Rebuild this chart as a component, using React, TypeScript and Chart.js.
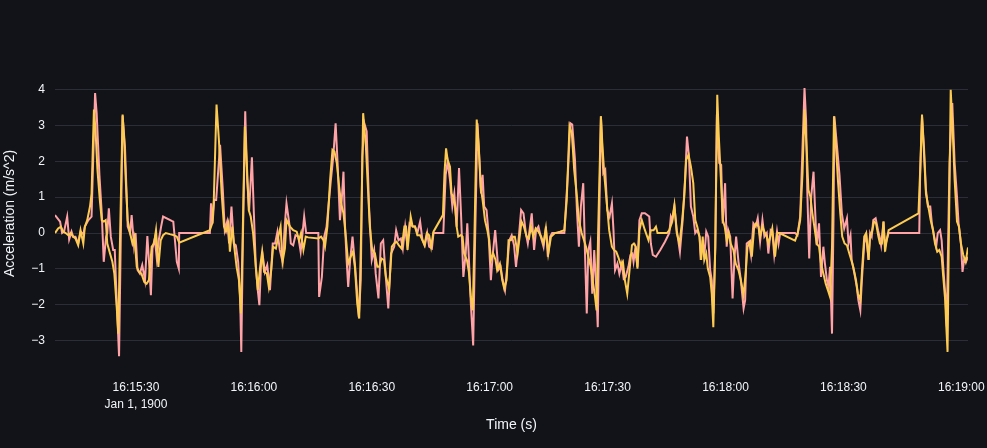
import { useEffect, useRef } from "react"
import { Chart, registerables } from "chart.js"

Chart.register(...registerables)

// time in seconds after 16:15:00 (Jan 1, 1900)
const pinkTime = [
  9.4, 10.7, 11.2, 11.7, 12.5, 13.0, 13.6, 14.0, 14.6, 15.3, 15.9, 16.6, 17.0, 17.9, 18.7, 19.6, 20.0, 20.7, 21.3, 21.8,
  22.4, 22.7, 23.1, 23.6, 24.2, 24.6, 25.2, 25.7, 26.6, 27.2, 27.9, 28.5, 28.9, 29.5, 29.9, 30.4, 31.0, 31.6, 32.3, 32.9,
  33.4, 33.8, 34.2, 34.8, 35.3, 35.8, 36.4, 36.9, 39.1, 39.5, 40.4, 40.9, 41.0, 48.8, 49.1, 49.5, 49.9, 50.4, 51.4, 52.1,
  52.6, 53.2, 53.7, 54.3, 54.9, 55.4, 56.0, 56.5, 56.8, 57.2, 57.8, 58.3, 58.8, 59.5, 60.0, 60.5, 61.0, 61.4, 61.8, 62.2,
  62.8, 63.4, 64.1, 64.8, 65.4, 66.0, 66.6, 67.3, 67.9, 68.3, 69.0, 69.4, 70.0, 70.6, 71.3, 71.9, 72.3, 72.8, 73.3, 76.4,
  76.6, 77.3, 77.9, 78.5, 79.6, 80.2, 80.8, 81.3, 81.9, 82.3, 82.8, 83.2, 83.6, 84.0, 84.5, 85.1, 85.7, 86.3, 86.7, 87.2,
  87.6, 88.1, 88.7, 89.3, 90.0, 90.6, 91.0, 91.7, 92.3, 92.9, 93.5, 94.2, 94.9, 95.7, 96.2, 96.8, 97.4, 97.9, 98.5, 99.0,
  99.6, 100.4, 101.0, 101.6, 102.3, 102.9, 103.5, 104.1, 104.6, 105.3, 105.7, 108.2, 108.8, 109.3, 109.9, 110.5, 111.0, 111.6, 112.2, 112.7,
  113.3, 113.9, 114.3, 114.8, 115.2, 115.8, 116.3, 116.9, 117.4, 117.8, 118.2, 118.6, 119.2, 119.7, 120.3, 120.8, 121.4, 121.8, 122.2, 122.8,
  123.3, 123.9, 124.3, 125.0, 125.6, 126.2, 126.7, 127.5, 128.0, 128.6, 129.2, 129.7, 130.1, 130.7, 131.3, 131.8, 132.4, 133.0, 133.7, 134.3,
  134.8, 135.4, 135.9, 139.0, 139.9, 140.5, 141.0, 141.7, 142.2, 142.7, 143.2, 143.8, 144.3, 144.7, 145.1, 145.6, 146.1, 146.6, 147.1, 147.5,
  147.9, 148.3, 148.9, 149.4, 149.9, 150.5, 151.1, 151.5, 151.9, 152.5, 153.0, 153.6, 154.1, 154.6, 155.3, 155.8, 156.3, 156.6, 157.0, 157.6,
  158.1, 158.7, 159.5, 160.6, 161.0, 161.5, 162.3, 163.4, 164.6, 165.7, 166.1, 166.5, 167.0, 167.6, 168.4, 169.1, 169.7, 170.2, 170.7, 171.2,
  171.8, 172.3, 172.8, 173.4, 173.7, 174.2, 174.6, 175.1, 175.6, 176.1, 176.5, 176.9, 177.4, 177.8, 178.4, 178.9, 179.3, 179.9, 180.3, 180.7,
  181.2, 181.8, 182.3, 182.7, 183.3, 183.9, 184.6, 185.0, 185.4, 186.0, 186.5, 187.1, 187.7, 188.2, 188.8, 189.4, 189.9, 190.5, 190.9, 191.5,
  191.9, 192.4, 193.1, 193.5, 193.9, 197.7, 198.3, 199.0, 199.6, 200.1, 200.5, 200.8, 201.3, 201.8, 202.4, 202.8, 203.2, 203.8, 204.3, 204.9,
  205.3, 205.8, 206.2, 206.6, 207.1, 207.5, 207.7, 208.3, 209.0, 209.6, 210.2, 210.9, 211.3, 211.8, 212.1, 212.8, 213.4, 213.8, 214.3, 214.7,
  215.3, 215.8, 216.4, 216.8, 217.2, 217.6, 218.2, 218.8, 219.2, 219.6, 220.2, 220.6, 221.0, 221.5, 229.3, 229.5, 230.0, 230.5, 231.0, 231.5,
  232.1, 232.5, 233.1, 233.6, 234.0, 234.6, 235.0, 235.4, 235.9, 236.3, 236.6, 237.0, 237.7, 238.3, 238.9, 239.3, 239.9, 240.3, 240.7, 241.2,
  241.7,
]
const pinkAccel = [
  0.5, 0.32, 0, 0.04, 0.46, -0.18, 0.04, -0.1, -0.1, -0.29, 0.04, -0.03, 0.18, 0.36, 0.46, 3.9, 3.34, 1.62, 0.55, -0.8,
  -0.1, 0, 0.69, -0.1, -0.47, -0.47, -2.15, -3.43, 3.27, 2.41, 0.18, 0, 0.5, -0.34, 0, -1.03, -1.13, -0.89, -1.31, -0.08,
  -0.94, -1.73, -0.43, -0.15, -0.71, -0.2, 0.18, 0.46, 0.34, 0.32, -0.8, -0.99, 0, 0, 0.83, 0.27, 0.92, 0.92, 2.46, 1.2,
  0.08, 0.32, -0.29, 0.74, -0.29, -0.34, -0.8, -1.78, -3.31, -0.2, 3.39, 1.48, 0.64, 2.11, 0.55, -0.94, -1.59, -2.01, -0.94, -0.57,
  -1.08, -0.89, -1.59, -0.29, -0.29, 0.04, -0.47, -0.8, 0.27, 0.83, 0.27, -0.29, -0.34, -0.06, -0.1, -0.52, -0.1, 0.46, 0, 0,
  -1.78, -1.22, -0.1, 0.18, 1.48, 2.13, 3.06, 1.95, 0.36, 0.83, 1.71, 0.18, -0.75, -1.5, -0.75, -0.1, -0.85, -1.69, -2.34, -1.31,
  2.13, 3.06, 2.83, 0.74, -0.75, -0.47, -1.13, -1.82, -0.29, -0.2, -1.13, -2.1, -0.57, -0.38, 0.08, -0.2, -0.15, -0.43, 0.18, -0.29,
  0.27, 0.18, 0.18, 0, 0.32, -0.2, -0.34, 0, -0.38, -0.43, 0, 0, 1.62, 1.99, 1.48, 0.74, 1.1, 0.18, 1.81, 0.55,
  -1.22, -0.57, 0.27, -0.94, -1.96, -3.13, -0.1, 3.06, 2.04, 1.1, 1.62, 0.74, 0.64, 0, -1.31, -0.57, 0.08, -0.47, -1.03, -0.94,
  -1.31, -1.59, -1.13, -0.2, -0.06, -0.34, -0.94, 0, 0.64, 0.55, 0, -0.29, 0.04, 0.55, -0.47, 0.08, 0.18, -0.1, -0.38, 0.18,
  -0.66, -0.1, 0, 0, 1.67, 3.06, 3.02, 2.04, 0.64, -0.38, 0.74, 1.39, -0.75, -2.24, -0.47, -0.24, -1.69, -0.47, -1.5, -2.62,
  0.55, 3.25, 1.67, 1.76, 0.64, 0.46, 0.83, 0.08, -1.03, -0.85, -1.13, -0.85, -1.27, -1.22, -0.94, -0.61, -0.57, -0.8, -0.47, -0.94,
  0.36, 0.55, 0.55, 0.46, -0.29, -0.61, -0.66, -0.47, -0.24, 0, 0.46, 0.36, 0.74, 0.08, -0.52, 0.36, 1.48, 2.69, 2.13, 0.74,
  0.46, 0, 0.08, -0.1, -0.75, -0.2, -0.66, 0.04, -0.1, -1.03, -1.31, -2.24, -0.38, 3.3, 1.95, 1.9, 0.27, 1.39, -0.38, 0.08,
  -0.1, -1.82, -0.66, -0.1, -0.8, -1.31, -2.1, -1.87, -0.29, -0.24, -0.61, 0.27, 0.18, 0.41, -0.24, 0.36, -0.1, 0, -0.57, 0.08,
  0.04, -0.61, 0.04, -0.29, 0, 0, -0.06, 0.46, 2.41, 4.04, 3.16, 1.2, -0.71, 1.01, 1.71, 0.64, -0.34, 0.27, -1.22, -0.38,
  -0.85, -1.31, -1.5, -0.94, -2.8, 0.55, 3.25, 2.5, 1.62, 0.55, 0.13, 0.41, -0.29, -0.06, -0.75, -1.13, -1.5, -1.87, -2.15, -1.31,
  -0.29, -0.06, -0.75, 0, -0.1, 0.36, 0.41, 0.08, -0.1, -0.34, 0.32, -0.38, -0.2, 0, 0, 1.48, 3.25, 2.41, 1.2, 0.74,
  0.74, 0.27, -0.1, -0.38, 0, 0.08, -0.2, -0.94, -1.69, -2.6, -0.5, 1.95, 3.62, 1.95, 1.01, 0.27, -0.29, -1.08, -0.75, -0.8,
  -0.66,
]

const yellowTime = [
  9.4, 10.2, 10.9, 11.5, 12.1, 12.8, 13.4, 14.0, 14.6, 15.3, 15.9, 16.6, 17.0, 17.6, 18.3, 18.7, 19.3, 19.7, 20.2, 20.8,
  21.3, 21.8, 22.3, 22.7, 23.4, 24.0, 24.5, 25.1, 25.5, 25.9, 26.6, 27.0, 27.4, 27.9, 28.5, 29.1, 29.6, 30.2, 30.8, 31.4,
  32.1, 32.7, 33.3, 34.0, 34.6, 35.1, 35.7, 36.3, 36.9, 37.6, 38.6, 39.7, 40.4, 41.0, 48.8, 49.4, 49.8, 50.5, 51.1, 51.8,
  52.4, 52.9, 53.5, 53.9, 54.5, 55.0, 55.6, 56.2, 56.7, 57.1, 57.7, 58.2, 58.7, 59.2, 59.8, 60.5, 61.0, 61.6, 62.1, 62.6,
  63.3, 63.8, 64.4, 64.9, 65.6, 66.2, 66.8, 67.3, 67.9, 68.3, 69.2, 70.0, 70.9, 71.5, 72.0, 72.6, 73.2, 73.8, 76.4, 77.1,
  77.7, 78.1, 78.7, 79.4, 80.0, 80.5, 81.1, 81.7, 82.2, 82.8, 83.4, 84.0, 84.6, 85.2, 85.7, 86.3, 86.8, 87.3, 87.8, 88.5,
  89.0, 89.5, 90.1, 90.8, 91.4, 91.9, 92.5, 93.1, 93.6, 94.4, 95.1, 95.7, 96.3, 96.9, 97.6, 98.3, 98.7, 99.1, 99.6, 99.9,
  100.4, 101.0, 101.6, 102.3, 102.9, 103.4, 104.0, 104.6, 105.1, 105.7, 108.1, 108.5, 108.9, 109.3, 109.9, 110.3, 110.7, 111.2, 111.6, 112.0,
  112.6, 113.1, 113.5, 114.2, 114.7, 115.2, 115.7, 116.1, 116.7, 117.2, 117.7, 118.2, 118.8, 119.4, 119.9, 120.3, 120.9, 121.5, 121.9, 122.6,
  123.2, 123.7, 124.3, 124.8, 125.4, 126.0, 126.4, 127.1, 128.1, 128.7, 129.4, 130.0, 130.5, 131.1, 131.7, 132.4, 133.1, 133.7, 134.3, 134.9,
  135.6, 136.6, 137.9, 139.0, 139.6, 140.3, 140.9, 141.5, 142.2, 142.7, 143.4, 144.0, 144.5, 145.1, 145.7, 146.2, 146.8, 147.2, 147.6, 148.3,
  148.7, 149.2, 149.8, 150.4, 151.1, 151.6, 152.2, 152.7, 153.4, 153.9, 154.4, 155.0, 155.5, 156.2, 156.7, 157.2, 157.6, 158.1, 158.7, 159.5,
  160.4, 161.0, 161.7, 162.3, 162.7, 165.1, 165.7, 166.3, 167.0, 167.6, 168.3, 168.9, 169.5, 170.0, 170.6, 171.2, 171.8, 172.3, 172.8, 173.4,
  173.8, 174.2, 174.6, 175.1, 175.5, 176.1, 176.5, 176.9, 177.4, 177.9, 178.3, 178.8, 179.3, 179.8, 180.3, 180.8, 181.3, 182.0, 182.6, 183.3,
  183.9, 184.6, 185.1, 185.6, 186.3, 186.7, 187.3, 187.8, 188.4, 188.8, 189.4, 189.9, 190.5, 190.9, 191.5, 191.9, 192.6, 193.2, 193.7, 197.7,
  198.4, 199.0, 199.6, 200.1, 200.7, 201.1, 201.6, 202.1, 202.6, 203.2, 203.8, 204.3, 204.9, 205.5, 206.2, 206.6, 207.1, 207.6, 208.1, 208.6,
  209.2, 209.7, 210.3, 210.9, 211.5, 212.0, 212.5, 213.2, 213.7, 214.3, 214.7, 215.3, 215.8, 216.4, 216.8, 217.2, 217.8, 218.3, 218.9, 219.3,
  219.8, 220.2, 220.6, 221.0, 221.5, 229.1, 229.5, 230.0, 230.5, 231.0, 231.6, 232.2, 232.8, 233.3, 233.9, 234.4, 235.0, 235.4, 235.9, 236.1,
  236.5, 236.8, 237.3, 237.8, 238.3, 238.9, 239.4, 239.9, 240.5, 241.1, 241.7,
]
const yellowAccel = [
  0, 0.13, 0.18, 0.04, 0, -0.06, 0, -0.1, -0.15, -0.34, 0.08, -0.29, 0.18, 0.36, 0.74, 1.1, 3.44, 2.88, 1.76, 0.92,
  0.36, 0.32, 0.36, -0.29, -0.57, -0.8, -1.13, -2.06, -2.8, -0.38, 3.3, 2.6, 1.48, 0.36, 0, -0.29, -0.1, -0.94, -1.08, -1.13,
  -1.36, -1.41, -1.31, -0.38, -0.29, 0.08, -0.94, -0.2, -0.06, 0, -0.03, -0.06, -0.1, -0.27, 0.08, 0.27, 0.92, 3.58, 2.6, 1.1,
  0.18, 0.04, 0.27, -0.52, 0.18, -0.38, -0.94, -1.31, -2.24, -0.38, 2.97, 1.95, 0.64, 0.46, 0, -0.94, -1.59, -0.94, -0.52, -1.08,
  -1.13, -1.5, -1.03, -0.38, -0.43, -0.1, 0.18, -0.8, -0.43, 0.36, 0.18, 0.08, 0.04, -0.2, 0, -0.47, -0.1, -0.12, -0.15, -0.1,
  -0.2, -0.38, 0.18, 1.48, 2.32, 2.27, 1.95, 1.29, 0.83, 0.55, -0.1, -0.85, -0.66, -0.52, -0.94, -1.96, -2.38, 0.08, 3.34, 2.41,
  1.29, 0.18, -0.47, -0.57, -0.94, -0.94, -0.71, -0.75, -1.22, -1.55, -0.38, -0.29, -0.24, -0.34, -0.43, 0.18, 0.18, -0.47, 0.08, 0.46,
  0.18, 0.18, -0.06, -0.06, -0.2, -0.34, 0, -0.06, -0.38, 0.04, 0.5, 1.67, 2.36, 2.04, 1.85, 1.1, 1.01, 0.74, 0.18, -0.1,
  -0.06, -0.1, -0.57, -0.75, -1.08, -1.78, -2.15, -0.2, 3.16, 2.41, 1.29, 0.92, 0.36, 0.08, -0.2, -0.75, -0.57, -0.75, -1.03, -0.85,
  -1.31, -1.55, -1.31, -0.2, -0.2, -0.1, -0.1, -0.57, 0.32, 0.18, -0.1, -0.15, 0.18, -0.1, 0.13, 0.04, -0.1, -0.29, 0.13, -0.57,
  -0.1, 0, 0.04, 0.08, 0.92, 2.97, 2.78, 1.76, 1.01, 0.36, 0, -0.2, -0.38, -0.66, -0.94, -1.31, -1.78, -2.15, 0.08, 3.25,
  2.41, 1.57, 0.83, 0.08, -0.38, -0.47, -0.52, -0.66, -0.89, -0.8, -1.31, -1.69, -1.13, -0.34, -0.29, -0.38, -0.99, 0.08, 0.36, 0.08,
  -0.2, 0.08, 0.08, 0.18, 0, 0, 0.08, 0.27, 0.78, 0, -0.29, 0.27, 1.01, 2.04, 2.18, 1.85, 1.39, 0.36, 0.18, -0.1,
  -0.75, -0.1, -0.75, -0.57, -0.99, -1.22, -1.69, -2.62, -0.38, 3.85, 2.69, 1.57, 0.36, 0.18, -0.2, 0, -0.29, -0.47, -0.85, -1.03,
  -1.31, -1.73, -1.13, -0.38, -0.24, -0.66, 0.18, 0.27, 0.18, -0.1, 0.18, 0.04, -0.1, -0.29, -0.06, 0.13, -0.66, 0, 0, -0.21,
  0, 0.36, 1.67, 3.44, 2.23, 1.2, 1.01, 0.55, 0.18, -0.29, -0.38, -0.85, -1.13, -1.41, -1.64, -1.78, -0.38, 3.25, 2.41, 1.48,
  0.55, -0.1, -0.29, -0.34, -0.57, -0.75, -0.94, -1.31, -1.69, -1.87, -1.1, -0.1, 0, -0.75, -0.06, 0, 0.32, 0.27, -0.1, -0.29,
  -0.29, 0.32, -0.52, -0.2, 0.08, 0.55, 1.67, 3.3, 2.23, 1.1, 0.74, 0.36, 0.08, -0.29, -0.52, -0.47, -0.66, -1.22, -1.87, -2.43,
  -3.31, -0.38, 3.99, 2.88, 1.48, 0.32, 0.18, -0.29, -0.61, -0.8, -0.4,
]

// tick positions
const xTickValues = [30, 60, 90, 120, 150, 180, 210, 240]
const yTickValues = [-3, -2, -1, 0, 1, 2, 3, 4]

const X_MIN = 9.4
const X_MAX = 241.7
const Y_MIN = -3.8
const Y_MAX = 4.89

const BG = "#111319"
const GRID = "#2b2e36"
const TEXT = "#f2f5fa"
const FONT = "'Liberation Sans', Arial, sans-serif"

function clockLabel(sec: number) {
  const total = 16 * 3600 + 15 * 60 + Math.round(sec)
  const h = Math.floor(total / 3600)
  const m = Math.floor((total % 3600) / 60)
  const s = total % 60
  const pad = (n: number) => String(n).padStart(2, "0")
  return `${h}:${pad(m)}:${pad(s)}`
}

export default function App() {
  const canvasRef = useRef<HTMLCanvasElement>(null)
  const chartInstance = useRef<Chart | null>(null)

  useEffect(() => {
    if (!canvasRef.current) return
    document.body.style.margin = "0"
    document.body.style.background = BG

    const pinkPoints = pinkTime.map((t, i) => ({ x: t, y: pinkAccel[i] }))
    const yellowPoints = yellowTime.map((t, i) => ({ x: t, y: yellowAccel[i] }))

    if (chartInstance.current) chartInstance.current.destroy()

    chartInstance.current = new Chart(canvasRef.current, {
      type: "line",
      data: {
        datasets: [
          {
            label: "yellow",
            data: yellowPoints,
            borderColor: "#fecb52",
            borderWidth: 2,
            pointRadius: 0,
            tension: 0,
            order: 0,
          },
          {
            label: "pink",
            data: pinkPoints,
            borderColor: "#ffa3a6",
            borderWidth: 2,
            pointRadius: 0,
            tension: 0,
            order: 1,
          },
        ],
      },
      options: {
        responsive: true,
        maintainAspectRatio: false,
        animation: false,
        layout: { padding: { top: 57.5, right: 19, bottom: 0, left: 0 } },
        plugins: {
          legend: { display: false },
          tooltip: { enabled: false },
        },
        scales: {
          x: {
            type: "linear",
            min: X_MIN,
            max: X_MAX,
            bounds: "data",
            grid: { display: false },
            border: { display: false },
            afterBuildTicks: (scale) => {
              scale.ticks = xTickValues.map((value) => ({ value }))
            },
            ticks: {
              autoSkip: false,
              maxRotation: 0,
              padding: 2,
              color: TEXT,
              font: { family: FONT, size: 12, lineHeight: 1.4 },
              callback: (value) => {
                const v = Number(value)
                return v === xTickValues[0] ? [clockLabel(v), "Jan 1, 1900"] : clockLabel(v)
              },
            },
            title: {
              display: true,
              text: "Time (s)",
              color: TEXT,
              font: { family: FONT, size: 14 },
              padding: { top: 0, bottom: 14.6 },
            },
            afterFit: (scale) => {
              scale.height = 78.5
            },
          },
          y: {
            min: Y_MIN,
            max: Y_MAX,
            bounds: "data",
            grid: { color: GRID, lineWidth: 1, drawTicks: false },
            border: { display: false },
            afterBuildTicks: (scale) => {
              scale.ticks = yTickValues.map((value) => ({ value }))
            },
            ticks: {
              autoSkip: false,
              padding: 10,
              color: TEXT,
              font: { family: FONT, size: 12 },
              callback: (value) => String(value).replace("-", "\u2212"),
            },
            title: {
              display: true,
              text: "Acceleration (m/s^2)",
              color: TEXT,
              font: { family: FONT, size: 14 },
              padding: { top: 2, bottom: 0 },
            },
            afterFit: (scale) => {
              scale.width = 55
            },
          },
        },
      },
    })

    return () => {
      if (chartInstance.current) {
        chartInstance.current.destroy()
        chartInstance.current = null
      }
    }
  }, [])

  return (
    <div style={{ position: "fixed", left: 0, top: 0, width: 987, height: 448, background: BG }}>
      <canvas ref={canvasRef} />
    </div>
  )
}
